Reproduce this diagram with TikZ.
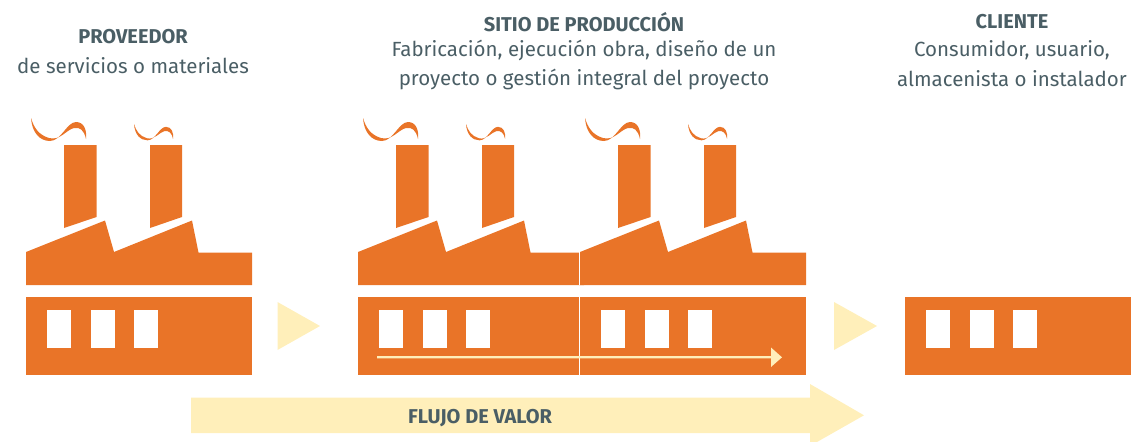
\documentclass[tikz,border=0pt]{standalone}
\usepackage{fontspec}
\setmainfont{Fira Sans}
\definecolor{naranja}{HTML}{E97428}
\definecolor{crema}{HTML}{FFEFBA}
\definecolor{texto}{HTML}{4A5E65}
\tikzset{
	titulo/.style={text=texto,font=\fontsize{20}{24}\selectfont\bfseries,inner sep=0pt},
	linea/.style={text=texto,font=\fontsize{20.5}{24}\selectfont,inner sep=0pt},
	humo/.style={fill=naranja,draw=none},
	cuerpo/.style={fill=naranja,draw=none},
	flecha/.style={fill=crema,draw=none}
}
% lower band with its three windows
\newcommand{\banda}[1]{
	\begin{scope}[shift={(#1,0)}]
		\fill[cuerpo] (26,297) rectangle (252,374.5);
		\foreach \v in {47,91,134}
			\fill[white] (\v,310) rectangle (\v+24,347.5);
	\end{scope}
}
\newcommand{\voluta}{
	(0,0) .. controls (1,15) and (9,23) .. (19,23)
	.. controls (30,23) and (36,4) .. (45,4)
	.. controls (53,4) and (56,12) .. (55,21)
	.. controls (53,12) and (49,9) .. (43,10)
	.. controls (35,12) and (29,23) .. (18,20)
	.. controls (8,17) and (3,10) .. (0,0) -- cycle
}
% roof, chimneys and smoke
\newcommand{\fabrica}[1]{
	\begin{scope}[shift={(#1,0)}]
		\fill[cuerpo] (64,145) -- (96.5,145) -- (96.5,217) -- (64,228) -- cycle;
		\fill[cuerpo] (150,145) -- (182,145) -- (182,217) -- (150,228) -- cycle;
		\fill[cuerpo] (26,252) -- (105,220.5) -- (114,252) -- (192,220.5) -- (198.5,252.5)
			-- (252,252.5) -- (252,285) -- (26,285) -- cycle;
		\fill[humo,shift={(31,118)}] \voluta;
		\fill[humo,shift={(134,124)},scale=0.71] \voluta;
	\end{scope}
	\banda{#1}
}
\begin{document}
\begin{tikzpicture}[x=1pt,y=-1pt,node distance=28.5pt]
	\useasboundingbox (0,0) rectangle (1144,442);

	\node[titulo] (proveedor) at (133,37) {PROVEEDOR};
	\node[linea] (servicios) [below of=proveedor] {de servicios o materiales};

	\node[titulo] (sitio) at (584,22) {SITIO DE PRODUCCIÓN};
	\node[linea] (fabricacion) [below of=sitio] {Fabricación, ejecución obra, diseño de un};
	\node[linea] (gestion) [below of=fabricacion] {proyecto o gestión integral del proyecto};

	\node[titulo] (cliente) at (1012,22) {CLIENTE};
	\node[linea] (consumidor) [below of=cliente] {Consumidor, usuario,};
	\node[linea] (almacenista) [below of=consumidor] {almacenista o instalador};

	\fabrica{0}
	\fabrica{332}
	\fabrica{554}
	\banda{879}

	\draw[white,line width=0.8pt] (579.5,252) -- (579.5,285);
	\draw[white,line width=0.8pt] (579.5,297) -- (579.5,374.5);

	\fill[flecha] (277.5,302) -- (320,326) -- (277.5,350) -- cycle;
	\fill[flecha] (834,302) -- (877,326) -- (834,350) -- cycle;

	\fill[flecha] (377,356.2) -- (771,356.2) -- (771,347.5) -- (782,357.3) -- (771,367)
		-- (771,358.4) -- (377,358.4) -- cycle;

	\fill[flecha] (191,397.7) -- (810,397.7) -- (810,384) -- (864,415.3) -- (817,442)
		-- (810,442) -- (810,433) -- (191,433) -- cycle;
	\node[titulo] (flujo) at (480,418) {FLUJO DE VALOR};
\end{tikzpicture}
\end{document}
